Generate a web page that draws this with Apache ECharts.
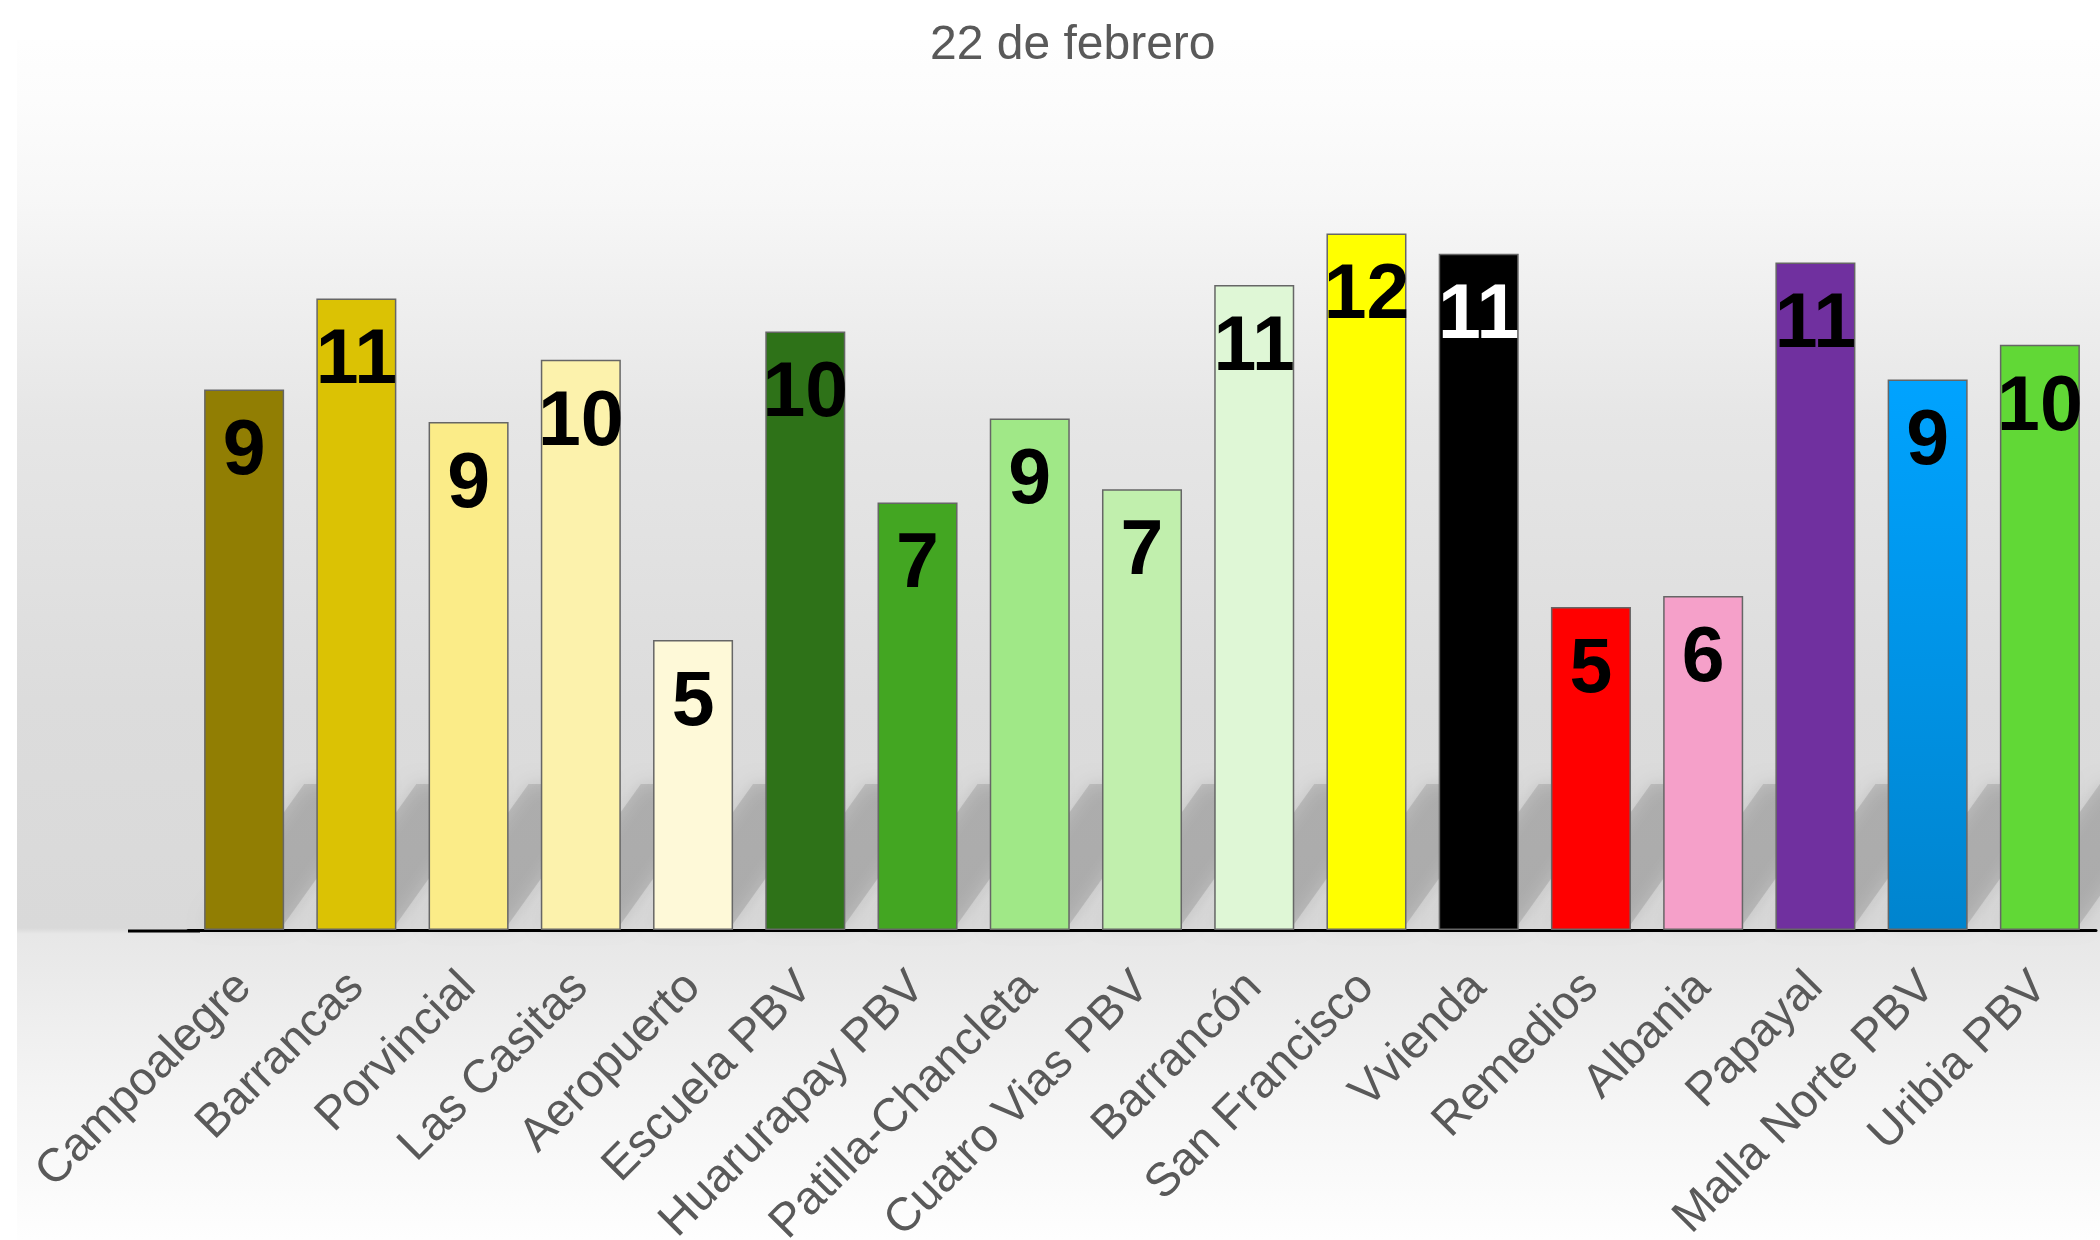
<!DOCTYPE html>
<html>
<head>
<meta charset="utf-8">
<script src="https://cdn.jsdelivr.net/npm/echarts@6/dist/echarts.min.js"></script>
<style>
  html, body { margin: 0; padding: 0; background: #fff; }
</style>
</head>
<body>
<div id="myChart" style="width: 2100px; height: 1240px"></div>
<script>
// datos
const categories = ['Campoalegre', 'Barrancas', 'Porvincial', 'Las Casitas', 'Aeropuerto', 'Escuela PBV',
  'Huarurapay PBV', 'Patilla-Chancleta', 'Cuatro Vias PBV', 'Barrancón', 'San Francisco', 'Vvienda',
  'Remedios', 'Albania', 'Papayal', 'Malla Norte PBV', 'Uribia PBV'];
const values = [9.32, 10.89, 8.76, 9.83, 5.0, 10.32, 7.37, 8.82, 7.6, 11.12, 12.01, 11.66, 5.57, 5.76, 11.51, 9.49, 10.09];
const labels = [9, 11, 9, 10, 5, 10, 7, 9, 7, 11, 12, 11, 5, 6, 11, 9, 10];

const barColors = ['#917e03', '#dbc204', '#fbec88', '#fcf2ac', '#fef9d8', '#2e7218', '#43a622', '#a0e887',
  '#c1efad', '#dff7d6', '#ffff00', '#000000', '#ff0000', '#f5a0c9', '#70309f',
  new echarts.graphic.LinearGradient(0, 0, 0, 1, [{ offset: 0, color: '#00a3ff' }, { offset: 1, color: '#0084ce' }]),
  '#61d836'];
const labelColors = categories.map((c) => c === 'Vvienda' ? '#ffffff' : '#000000');

const font = "'Liberation Sans', Arial, sans-serif";

let myChart = echarts.init(document.getElementById('myChart'));
myChart.setOption({
  animation: false,
  title: {
    text: '22 de febrero',
    left: 925,
    top: 17,
    textStyle: { color: '#595959', fontSize: 48, fontWeight: 'normal', fontFamily: font }
  },
  graphic: [
    {
      type: 'rect', z: -10, silent: true,
      shape: { x: 17, y: 40, width: 2083, height: 1200 },
      style: {
        fill: new echarts.graphic.LinearGradient(0, 0, 0, 1, [
          { offset: 0, color: '#fefefe' },
          { offset: 0.05, color: '#fcfcfc' },
          { offset: 0.133, color: '#f7f7f7' },
          { offset: 0.217, color: '#efefef' },
          { offset: 0.317, color: '#e6e6e6' },
          { offset: 0.55, color: '#dcdcdc' },
          { offset: 0.74, color: '#d9d9d9' },
          { offset: 0.745, color: '#e7e7e7' },
          { offset: 0.883, color: '#f5f5f5' },
          { offset: 1, color: '#fefefe' }
        ])
      }
    },
    {
      type: 'line', z: 10, silent: true,
      shape: { x1: 128, y1: 931, x2: 200, y2: 931 },
      style: { stroke: '#000', lineWidth: 3 }
    }
  ],
  grid: { left: 188, right: 4, top: 118, bottom: 310, containLabel: false, outerBoundsMode: 'none' },
  xAxis: {
    type: 'category',
    data: categories,
    axisLine: { lineStyle: { color: '#000', width: 3 } },
    axisTick: { show: false },
    axisLabel: {
      rotate: 45,
      interval: 0,
      margin: 50,
      color: '#595959',
      fontSize: 47,
      fontFamily: font
    }
  },
  yAxis: {
    type: 'value',
    min: 0,
    max: 14,
    show: false,
    splitLine: { show: false }
  },
  series: [
    {
      // sombra diagonal detras de cada barra
      type: 'custom',
      z: 1,
      silent: true,
      data: values,
      renderItem: function (params, api) {
        const base = api.coord([api.value(0), 0]);
        const w = api.size([1, 0])[0] * 0.713;
        const s = 140, d = 100;
        const xl = base[0] - w / 2, xr = base[0] + w / 2, y = base[1] - 6;
        return {
          type: 'polygon',
          shape: { points: [[xl, y], [xr, y], [xr + d, y - s], [xl + d, y - s]] },
          style: { fill: 'rgba(0,0,0,0.11)', shadowBlur: 18, shadowColor: 'rgba(0,0,0,1)' }
        };
      }
    },
    {
      type: 'bar',
      z: 2,
      barWidth: '71.3%',
      data: values.map((v, i) => ({
        value: v,
        itemStyle: { color: barColors[i] },
        label: { color: labelColors[i] }
      })),
      itemStyle: { borderColor: '#666666', borderWidth: 1.5 },
      label: {
        show: true,
        position: 'insideTop',
        distance: 25,
        fontSize: 77,
        fontWeight: 'bold',
        fontFamily: font,
        formatter: (p) => labels[p.dataIndex]
      }
    }
  ]
});
</script>
</body>
</html>
